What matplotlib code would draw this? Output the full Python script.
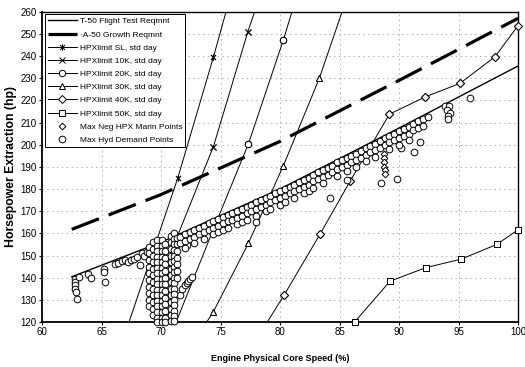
import matplotlib
matplotlib.use("Agg")
import matplotlib.pyplot as plt
from matplotlib.path import Path

plt.rcParams['font.family'] = ['Liberation Sans', 'DejaVu Sans']
plt.rcParams['lines.scale_dashes'] = False

# requirement lines
t50_x = [62.5, 70, 80, 90, 100]
t50_y = [140.4, 156, 180, 207.5, 235.5]
growth_x = [62.5, 70, 80, 90, 100]
growth_y = [161.8, 177.5, 201.5, 229, 257]

# HPX limit curves (points beyond the frame only continue the line)
sl_x = [67.0, 71.4, 74.4, 76.5]
sl_y = [115, 184.8, 239.4, 280]
k10_x = [69.0, 71.4, 74.4, 77.3, 78.5]
k10_y = [110, 159, 199.1, 251, 270]
k20_x = [70.6, 74.3, 77.34, 80.28, 81.8]
k20_y = [111, 160.5, 200.3, 247.2, 274]
k30_x = [71.4, 74.39, 77.34, 80.28, 83.3, 86.3]
k30_y = [100, 124.5, 155.5, 190.5, 229.9, 277]
k40_x = [77.3, 80.34, 83.36, 85.9, 89.2, 92.18, 95.13, 98.07, 100.0]
k40_y = [106, 132.1, 159.6, 183.6, 213.8, 221.5, 227.7, 239.7, 253.7]
k50_x = [86.3, 89.24, 92.24, 95.24, 98.21, 100.0]
k50_y = [120.2, 138.4, 144.5, 148.4, 155.0, 161.6]

# max hyd demand points: low-speed cluster columns
cluster_cols = [
    (69.0, [154, 151, 148, 145, 142, 139, 136, 133, 130, 127]),
    (69.35, [156, 153, 150, 147, 144, 141, 138, 135, 132, 129, 126, 123]),
    (69.7, [157, 154.5, 152, 149.5, 147, 144.5, 142, 139.5, 137, 134.5, 132, 129.5, 127, 124.5, 122, 120]),
    (70.05, [157, 154.5, 152, 149.5, 147, 144.5, 142, 139.5, 137, 134.5, 132, 129.5, 127, 124.5, 122, 120]),
    (70.35, [155, 152, 149, 146, 143, 140, 137, 134, 131, 128, 125, 122, 120]),
    (70.8, [159, 156, 153, 150, 147, 144, 141, 138, 135, 132, 129, 126, 123, 120.5]),
    (71.1, [160, 157.5, 155, 152.5, 150, 147.5, 145, 142.5, 140, 137.5, 135, 132.5, 130, 127.5, 125, 122.5, 120.5]),
    (71.35, [158, 155, 152, 149, 146, 143, 140]),
]
# band just under the T-50 line
band_cols = [
    (71.6, [158.5, 155.5]), (72.0, [159.5, 156.5, 153.5]), (72.4, [160.5, 157.5]),
    (72.8, [161.5, 158.5, 155.5]), (73.2, [162.5, 159.5]), (73.6, [163.5, 160.5, 157.5]),
    (74.0, [164.5, 161.5]), (74.4, [165.5, 162.5, 159.5]), (74.8, [166.5, 163.5, 160.5]),
    (75.2, [167.5, 164.5, 161.5]), (75.6, [168.5, 165.5, 162.5]), (76.0, [169, 166]),
    (76.4, [170, 167, 164]), (76.8, [171, 168, 165]), (77.2, [172, 169, 166]),
    (77.6, [173, 170]), (78.0, [174, 171, 168, 165]), (78.4, [175, 172]),
    (78.8, [176, 173, 170]), (79.2, [177, 174, 171]), (79.6, [178, 175]),
    (80.0, [179, 176, 173]), (80.4, [180, 177, 174]), (80.8, [181, 178]),
    (81.2, [182, 179, 176]), (81.6, [183, 180]), (82.0, [184, 181, 178]),
    (82.4, [185, 182, 179]), (82.8, [186.5, 183.5, 180.5]), (83.2, [187.5, 184.5]),
    (83.6, [188.5, 185.5, 182.5]), (84.0, [189.5, 186.5]), (84.4, [190.5, 187.5]),
    (84.8, [192, 189, 186]), (85.2, [193, 190]), (85.6, [194, 191, 188]),
    (86.0, [195, 192]), (86.4, [196, 193, 190]), (86.8, [197, 194]),
    (87.2, [198.5, 195.5, 192.5]), (87.6, [199.5, 196.5]), (88.0, [200.5, 197.5, 194.5]),
    (88.4, [201.5, 198.5]), (88.8, [203, 200]), (89.2, [204, 201, 198]),
    (89.6, [205, 202]), (90.0, [206, 203, 200]), (90.4, [207, 204]),
    (90.8, [208, 205, 202]), (91.2, [209.5, 206.5]), (91.6, [210.5, 207.5]),
    (92.0, [211.5, 208.5]), (92.4, [212.5]),
]
# scattered hyd points
hyd_x = [62.8, 62.8, 62.8, 62.8, 62.85, 62.9, 63.1, 63.9, 64.1, 65.2, 65.2, 65.3,
         66.1, 66.4, 66.7, 67.0, 67.2, 67.5, 67.7, 68.0, 68.2, 68.4, 68.6, 68.8, 69.1,
         71.6, 71.8, 72.0, 72.15, 72.3, 72.45, 72.6, 72.2,
         84.2, 85.6, 88.5, 89.8, 90.2, 91.3, 91.8,
         93.9, 94.2, 94.0, 94.3, 94.1, 94.1, 96.0]
hyd_y = [139.5, 138, 136.5, 135, 133.5, 130.5, 140.5, 141.5, 140, 144, 142.5, 138,
         146, 146.5, 147.5, 148, 147, 148, 148.5, 149.5, 145.5, 151, 150, 151.5, 152.5,
         132, 135, 136.5, 137.5, 138.5, 139.5, 140.5, 154.7,
         176, 184, 182.7, 184.6, 198.3, 196.8, 201.3,
         217.4, 217.4, 215.5, 214.5, 213, 211.5, 221.2]
# max neg HPX margin points
neg_x = [88.7, 88.7, 88.75, 88.75, 88.8, 88.8]
neg_y = [196, 194, 192, 190, 188.5, 187]

all_hyd_x = list(hyd_x)
all_hyd_y = list(hyd_y)
for cx, ys in cluster_cols + band_cols:
    all_hyd_x += [cx] * len(ys)
    all_hyd_y += ys

star = Path([(-1, -1), (1, 1), (-1, 1), (1, -1), (0, -1.3), (0, 1.3)],
            [Path.MOVETO, Path.LINETO, Path.MOVETO, Path.LINETO, Path.MOVETO, Path.LINETO])

hpx_series = [
    ("HPXlimit SL, std day", sl_x, sl_y, star),
    ("HPXlimit 10K, std day", k10_x, k10_y, "x"),
    ("HPXlimit 20K, std day", k20_x, k20_y, "o"),
    ("HPXlimit 30K, std day", k30_x, k30_y, "^"),
    ("HPXlimit 40K, std day", k40_x, k40_y, "D"),
    ("HPXlimit 50K, std day", k50_x, k50_y, "s"),
]

fig = plt.figure(figsize=(5.25, 3.67), dpi=100)
ax = fig.add_axes([0.080, 0.1226, 0.9067, 0.8455])

handles = []
h, = ax.plot(t50_x, t50_y, color="k", lw=1.0, zorder=2, label="T-50 Flight Test Reqmnt")
handles.append(h)
h, = ax.plot(growth_x, growth_y, color="k", lw=2.3, dashes=(21, 7.5), zorder=2,
             label="\u00b7A-50 Growth Reqmnt")
handles.append(h)

for name, xs, ys, mk in hpx_series:
    ms = 4.0 if mk == "D" else 4.6
    h, = ax.plot(xs, ys, color="k", lw=0.7, marker=mk, ms=ms, mfc="w", mec="k",
                 mew=0.7, zorder=2, label=name)
    handles.append(h)
    # redraw the markers that sit inside the frame unclipped (edge markers stay whole)
    inside = [(x, y) for x, y in zip(xs, ys) if 60 <= x <= 100 and 120 <= y <= 260]
    ax.plot([p[0] for p in inside], [p[1] for p in inside], ls="none", marker=mk,
            ms=ms, mfc="w", mec="k", mew=0.7, zorder=3, clip_on=False)

h_hyd, = ax.plot(all_hyd_x, all_hyd_y, ls="none", marker="o", ms=4.8, mfc="w",
                 mec="k", mew=0.7, zorder=4, clip_on=False, label="Max Hyd Demand Points")
h_neg, = ax.plot(neg_x, neg_y, ls="none", marker="D", ms=3.4, mfc="w", mec="k",
                 mew=0.7, zorder=4, clip_on=False, label="Max Neg HPX Marin Points")
handles += [h_neg, h_hyd]

ax.set_xlim(60, 100)
ax.set_ylim(120, 260)
ax.set_xticks(range(60, 101, 5))
ax.set_yticks(range(120, 261, 10))
ax.tick_params(axis="both", labelsize=7, length=2, width=0.8)
ax.tick_params(axis="x", pad=1.5)
ax.tick_params(axis="y", pad=2)
ax.grid(True, ls=(0, (1, 2.5)), color="#a0a0a0", lw=0.6)
ax.set_axisbelow(True)
for s in ax.spines.values():
    s.set_linewidth(1.0)
    s.set_color("k")
ax.spines["bottom"].set_linewidth(1.3)
ax.spines["left"].set_linewidth(1.3)

ax.set_xlabel("Engine Physical Core Speed (%)", fontsize=6.5, fontweight="bold", labelpad=12)
ax.set_ylabel("Horsepower Extraction (hp)", fontsize=8.8, fontweight="bold", labelpad=2)

leg = ax.legend(handles=handles, loc="upper left", fontsize=6, frameon=True,
                fancybox=False, edgecolor="k", framealpha=1, borderpad=0.4,
                labelspacing=0.64, handlelength=3.5, handletextpad=0.3,
                borderaxespad=0.3, numpoints=1)
leg.get_frame().set_linewidth(0.7)
leg.set_zorder(10)

fig.savefig("out.png", dpi=100, facecolor="white")
